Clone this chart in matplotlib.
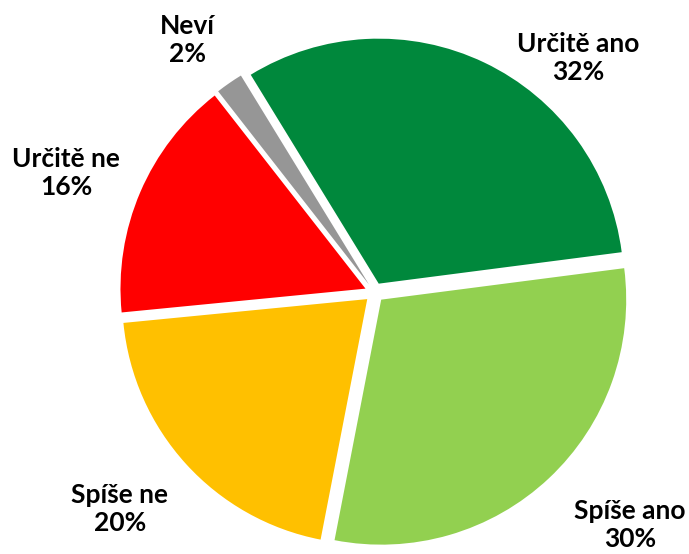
import matplotlib
matplotlib.use("Agg")
import matplotlib.pyplot as plt

categories = ["Určitě ano", "Spíše ano", "Spíše ne", "Určitě ne", "Neví"]
values = [31.7, 30.1, 20.4, 16.0, 1.8]
colors = ["#00883C", "#92D050", "#FFC000", "#FF0000", "#969696"]

# label block centres (data units, pie radius = 1)
label_pos = [(0.831, 0.957), (1.043, -0.949), (-1.039, -0.884), (-1.259, 0.488), (-0.765, 1.031)]

W, H = 689, 554
R = 245.0
cx, cy = 374.5, 292.5

fig = plt.figure(figsize=(W / 100, H / 100), dpi=100)
ax = fig.add_axes([0, 0, 1, 1])

labels = [f"{c}\n{round(v)}%" for c, v in zip(categories, values)]
wedges, texts = ax.pie(values, colors=colors, explode=[0.04] * len(values),
                       startangle=121.5, counterclock=False, radius=1,
                       labels=labels,
                       textprops=dict(fontfamily="Lato", fontweight="bold",
                                      fontsize=19, color="black"))
for t, p in zip(texts, label_pos):
    t.set_position(p)
    t.set_ha("center")
    t.set_va("center")
    t.set_multialignment("center")
    t.set_linespacing(1.2)

ax.set_xlim(-cx / R, (W - cx) / R)
ax.set_ylim(-(H - cy) / R, cy / R)
ax.set_aspect("equal")
ax.axis("off")
fig.savefig("out.png", dpi=100)
